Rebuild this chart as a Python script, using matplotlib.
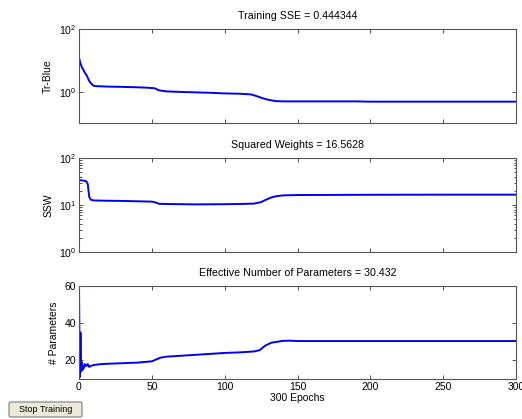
## Bayesian regularisation training window (3 panels) redrawn with matplotlib
import numpy as np
import matplotlib.pyplot as plt
from matplotlib.patches import FancyBboxPatch

plt.rcParams['font.family'] = ['Liberation Sans', 'DejaVu Sans']
plt.rcParams['mathtext.default'] = 'regular'
plt.rcParams['font.size'] = 7.5

## data
ep_sse  = [0, 1, 2, 3, 4, 5, 6, 7, 8, 9, 10, 12, 15, 20, 30, 40, 48, 52, 55, 60,
           70, 80, 90, 100, 110, 118, 122, 126, 130, 135, 140, 150, 190, 200, 250, 300]
tr_blue = [12, 8, 6, 5, 4, 3.5, 2.8, 2.2, 1.9, 1.7, 1.55, 1.5, 1.48, 1.45, 1.42, 1.38, 1.33, 1.28, 1.1, 1.02,
           0.98, 0.95, 0.92, 0.88, 0.86, 0.82, 0.72, 0.62, 0.55, 0.5, 0.49, 0.49, 0.49, 0.48, 0.48, 0.48]

ep_ssw = [0, 3, 5, 6, 7, 8, 10, 20, 30, 40, 50, 53, 55, 60, 80, 100, 110, 120, 125,
          128, 132, 136, 140, 150, 200, 250, 300]
ssw    = [34, 33, 32, 28, 15, 13, 12.5, 12.3, 12.2, 12, 11.8, 11.2, 10.6, 10.5, 10.3, 10.4, 10.5, 10.7, 11.5,
          12.8, 14.5, 15.5, 16.0, 16.3, 16.5, 16.6, 16.6]

ep_par = [0, 0.5, 1, 1.5, 2, 2.5, 3, 3.5, 4, 5, 6, 7, 8, 10, 15, 20, 30, 40, 50, 53, 56, 60,
          70, 80, 90, 100, 110, 120, 124, 128, 132, 136, 140, 145, 150, 200, 250, 300]
npar   = [60, 11, 35, 14, 19, 15, 17, 16, 18, 17, 18, 16.5, 17, 17.5, 18, 18.2, 18.5, 18.8, 19.5, 20.5, 21.5, 22,
          22.5, 23, 23.5, 24, 24.3, 24.8, 25.5, 28, 29.5, 30, 30.5, 30.6, 30.4, 30.4, 30.4, 30.4]

titles  = ['Training SSE = 0.444344', 'Squared Weights = 16.5628',
           'Effective Number of Parameters = 30.432']
ylabels = ['Tr-Blue', 'SSW', '# Parameters']

W, H = 522, 419
fig = plt.figure(figsize=(W/100.0, H/100.0), dpi=100)
fig.patch.set_facecolor('white')

## axes boxes in pixels: (top, bottom)
boxes = [(29, 123), (158, 252), (286, 379)]
left, right = 79, 516
axs = []
for top, bot in boxes:
    ax = fig.add_axes([left/W, 1-bot/H, (right-left)/W, (bot-top)/H])
    axs.append(ax)

line_kw = dict(color='#0000ee', lw=1.4)

ax = axs[0]
ax.semilogy(ep_sse, tr_blue, **line_kw)
ax.set_ylim(0.1, 100)
ax.set_yticks([1, 100])
ax.set_yticklabels(['$10^{0}$', '$10^{2}$'])
ax.yaxis.set_minor_locator(plt.NullLocator())

ax = axs[1]
ax.semilogy(ep_ssw, ssw, **line_kw)
ax.set_ylim(1, 100)
ax.set_yticks([1, 10, 100])
ax.set_yticklabels(['$10^{0}$', '$10^{1}$', '$10^{2}$'])

ax = axs[2]
ax.plot(ep_par, npar, **line_kw)
ax.set_ylim(10, 60)
ax.set_yticks([20, 40, 60])
ax.set_xlabel('300 Epochs', labelpad=1)

for i, ax in enumerate(axs):
    ax.set_xlim(0, 300)
    ax.set_xticks([0, 50, 100, 150, 200, 250, 300])
    if i < 2:
        ax.set_xticklabels([])
    ax.set_title(titles[i], pad=7, fontsize=7.7)
    ax.set_ylabel(ylabels[i], labelpad=4)
    ax.tick_params(which='both', direction='in', top=True, right=True,
                   length=3, width=0.6, colors='#333333', labelcolor='black', pad=2)
    ax.tick_params(which='minor', length=1.8)
    for s in ax.spines.values():
        s.set_color('#555555')
        s.set_linewidth(0.8)

## Stop Training button
bx = FancyBboxPatch((9/W, 1-417/H), 73/W, 15/H, boxstyle='round,pad=0,rounding_size=0.004',
                    transform=fig.transFigure, facecolor='#ece9d8', edgecolor='#7a7a7a', lw=0.8)
fig.patches.append(bx)
fig.text(45.5/W, 1-409.5/H, 'Stop Training', ha='center', va='center', fontsize=6.5)

fig.savefig('out.png', dpi=100)
